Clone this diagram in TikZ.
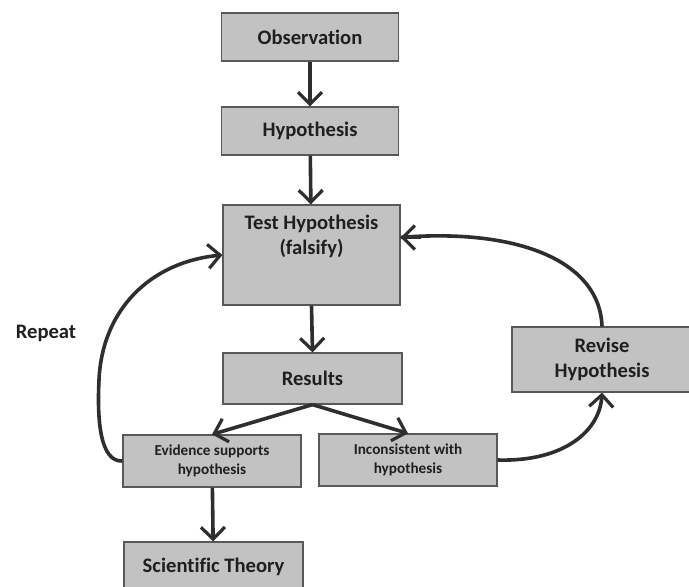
\documentclass[tikz,border=0pt]{standalone}
\usepackage{fontspec}
\setmainfont{Carlito}[Ligatures={NoCommon}]
\usetikzlibrary{arrows.meta}
\begin{document}
\begin{tikzpicture}[x=0.5pt,y=-0.5pt,
  box/.style={draw=black!65, line width=0.6pt, fill=black!24, minimum width=88.5pt, minimum height=25pt,
    inner sep=0pt, font=\bfseries\fontsize{10.3}{12.5}\selectfont, text=black!88, align=center},
  smallbox/.style={box, font=\bfseries\fontsize{7.6}{9.5}\selectfont},
  arr/.style={draw=black!82, line width=1.8pt, -{Straight Barb[length=6pt,width=12pt,line width=1.6pt]}}]
\clip (0,0) rectangle (689,587);
\fill[white] (0,0) rectangle (689,587);
\node[box, minimum height=24pt] (obs) at (310,37) {Observation};
\node[box, minimum height=24pt] (hyp) at (310,131) {Hypothesis};
\node[box, minimum height=50pt, text height=25pt, text depth=25pt] (test) at (311.5,255) {Test Hypothesis\\(falsify)};
\node[box, minimum width=89.5pt, minimum height=25.5pt] (res) at (312.5,378.5) {Results};
\node[smallbox, minimum width=89pt, minimum height=26pt] (ev) at (212,461) {Evidence supports\\hypothesis};
\node[smallbox, minimum width=89pt, minimum height=26pt] (inc) at (408,460) {Inconsistent with\\hypothesis};
\node[box, minimum width=90pt, minimum height=32.5pt] (rev) at (602,359.5) {Revise\\Hypothesis};
\node[box, minimum width=89.5pt, minimum height=25pt] (sci) at (213.5,567) {Scientific Theory};
\node[font=\bfseries\fontsize{10.3}{12.5}\selectfont, text=black!88] (rep) at (46,333) {Repeat};
\coordinate (tin) at ([yshift=-16.5pt]test.north east);
\draw[arr] (obs) -- (hyp);
\draw[arr] (hyp) -- (test);
\draw[arr] (test.south) -- (res.north);
\draw[arr] (res.south) -- (ev.north);
\draw[arr] (res.south) -- (inc.north);
\draw[arr] (ev) -- (sci);
\draw[arr] (ev.west) .. controls (100,462) and (97,420) .. (99,380) .. controls (102,310) and (150,262) .. (test.west);
\draw[arr] (inc.east) .. controls (565,462) and (600,430) .. (rev.south);
\draw[arr, -] (rev.north) .. controls (600,262) and (520,228) .. (tin);
\draw[arr] ([xshift=10pt]tin) -- (tin);
\end{tikzpicture}
\end{document}
